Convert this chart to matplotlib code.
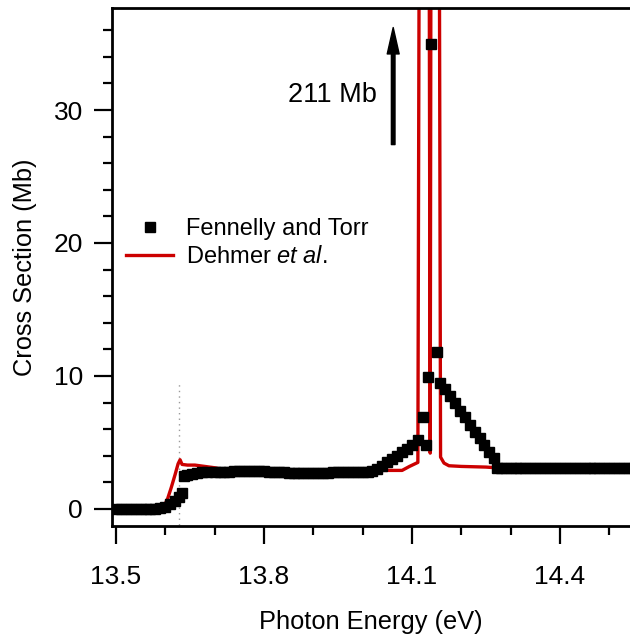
import numpy as np
import matplotlib
matplotlib.use("Agg")
from matplotlib import pyplot as plt
from matplotlib.ticker import MultipleLocator

plt.rcParams['font.family'] = ['Liberation Sans', 'DejaVu Sans']
plt.rcParams['mathtext.fontset'] = 'custom'
plt.rcParams['mathtext.rm'] = 'Liberation Sans'
plt.rcParams['mathtext.it'] = 'Liberation Sans:italic'

# Fennelly and Torr tabulated cross sections (eV, Mb)
ft_energy = [13.50, 13.51, 13.52, 13.53, 13.54, 13.55, 13.56, 13.57, 13.58, 13.59,
             13.60, 13.61, 13.62, 13.628, 13.634, 13.638, 13.645, 13.655, 13.665, 13.675,
             13.685, 13.70, 13.71, 13.72, 13.73, 13.74, 13.75, 13.76, 13.77, 13.78,
             13.79, 13.80, 13.81, 13.82, 13.83, 13.84, 13.85, 13.86, 13.87, 13.88,
             13.89, 13.90, 13.91, 13.92, 13.93, 13.94, 13.95, 13.96, 13.97, 13.98,
             13.99, 14.00, 14.01, 14.02, 14.03, 14.04, 14.05, 14.06, 14.07, 14.08,
             14.09, 14.10, 14.113, 14.123, 14.128, 14.132, 14.139, 14.151, 14.157, 14.167,
             14.177, 14.187, 14.197, 14.207, 14.217, 14.227, 14.237, 14.247, 14.257, 14.267,
             14.273, 14.28, 14.29, 14.30, 14.31, 14.32, 14.33, 14.34, 14.35, 14.36,
             14.37, 14.38, 14.39, 14.40, 14.41, 14.42, 14.43, 14.44, 14.45, 14.46,
             14.47, 14.48, 14.49, 14.50, 14.51, 14.52, 14.53, 14.54, 14.55]
ft_sigma = [0.0, 0.0, 0.0, 0.0, 0.0, 0.0, 0.0, 0.0, 0.0, 0.05,
            0.15, 0.35, 0.6, 0.9, 1.2, 2.5, 2.55, 2.62, 2.7, 2.75,
            2.78, 2.8, 2.8, 2.8, 2.8, 2.82, 2.85, 2.85, 2.85, 2.85,
            2.85, 2.82, 2.8, 2.78, 2.75, 2.75, 2.72, 2.72, 2.72, 2.72,
            2.72, 2.72, 2.72, 2.72, 2.72, 2.75, 2.75, 2.78, 2.78, 2.8,
            2.8, 2.8, 2.8, 2.85, 3.0, 3.25, 3.5, 3.75, 4.0, 4.25,
            4.5, 4.8, 5.2, 6.9, 4.8, 9.9, 35.0, 11.8, 9.5, 9.0,
            8.5, 8.0, 7.4, 6.9, 6.3, 5.8, 5.3, 4.8, 4.3, 3.8,
            3.1, 3.1, 3.1, 3.1, 3.1, 3.1, 3.1, 3.1, 3.1, 3.1,
            3.1, 3.1, 3.1, 3.1, 3.1, 3.1, 3.1, 3.1, 3.1, 3.1,
            3.1, 3.1, 3.1, 3.1, 3.1, 3.1, 3.1, 3.1, 3.1]

# Dehmer et al. high resolution curve (eV, Mb); the two resonances reach 211 Mb
dh_energy = [13.50, 13.58, 13.59, 13.60, 13.605, 13.612, 13.62, 13.626, 13.630, 13.634,
             13.645, 13.66, 13.68, 13.70, 13.72, 13.74, 13.76, 13.78, 13.80, 13.83,
             13.86, 13.88, 13.90, 13.92, 13.95, 13.98, 14.00, 14.02, 14.05, 14.08,
             14.095, 14.112, 14.126, 14.137, 14.145, 14.158, 14.165, 14.175, 14.20, 14.25,
             14.27, 14.28, 14.30, 14.35, 14.40, 14.45, 14.50, 14.55]
dh_sigma = [0.0, 0.0, 0.1, 0.4, 0.8, 1.6, 2.6, 3.4, 3.7, 3.35,
            3.3, 3.3, 3.2, 3.1, 2.95, 2.85, 2.85, 2.85, 2.8, 2.85,
            2.95, 2.9, 2.95, 2.95, 2.95, 2.9, 2.85, 2.9, 2.9, 2.9,
            3.2, 3.5, 211.0, 4.2, 211.0, 3.9, 3.45, 3.25, 3.2, 3.15,
            3.1, 2.9, 2.8, 2.8, 2.8, 2.8, 2.85, 2.85]

threshold = 13.628
peak_label = "211 Mb"

fig = plt.figure(figsize=(6.30, 6.38), dpi=100)
ax = fig.add_axes([112 / 630, 1 - 526 / 638, 1 - 112 / 630, (526 - 8) / 638])

ax.plot(dh_energy, dh_sigma, color='#cc0000', lw=2.4, zorder=2,
        label='Dehmer $\\mathit{et\\ al}$.')
ax.plot(ft_energy, ft_sigma, ls='none', marker='s', ms=6.5, color='black',
        mec='black', zorder=3, label='Fennelly and Torr')

# ionisation threshold marker
ax.plot([threshold, threshold], [-1.2, 9.6], color='#9a9a9a', lw=1.0,
        ls=(0, (1, 3)), zorder=1)

ax.annotate('', xy=(14.062, 36.2), xytext=(14.062, 27.4),
            arrowprops=dict(facecolor='black', edgecolor='black', width=2.6,
                            headwidth=8.6, headlength=19, shrink=0))
ax.text(14.029, 31.1, peak_label, ha='right', va='center', fontsize=19.5)

ax.set_xlim(13.492, 14.542)
ax.set_ylim(-1.28, 37.67)
ax.xaxis.set_major_locator(MultipleLocator(0.3))
ax.xaxis.set_minor_locator(MultipleLocator(0.1))
ax.yaxis.set_major_locator(MultipleLocator(10))
ax.yaxis.set_minor_locator(MultipleLocator(2))
ax.set_xticks([13.5, 13.8, 14.1, 14.4])
ax.set_xticklabels(['13.5', '13.8', '14.1', '14.4'])

for side in ['left', 'bottom', 'top']:
    ax.spines[side].set_linewidth(2.0)
ax.spines['right'].set_visible(False)
ax.tick_params(which='major', direction='out', length=13, width=1.6, labelsize=19)
ax.tick_params(which='minor', direction='out', length=6.5, width=1.6)
ax.tick_params(axis='x', which='major', pad=15)
ax.tick_params(axis='y', which='major', pad=8)
ax.tick_params(top=False, right=False, which='both')

ax.set_xlabel('Photon Energy (eV)', fontsize=18.3, labelpad=15)
ax.set_ylabel('Cross Section (Mb)', fontsize=18.3, labelpad=12)

handles, labels = ax.get_legend_handles_labels()
ax.legend(handles[::-1], labels[::-1], loc='upper left', bbox_to_anchor=(0.027, 0.594),
          frameon=False, fontsize=17, numpoints=1, handlelength=2.0,
          handletextpad=0.55, labelspacing=0.25, borderpad=0, borderaxespad=0)

fig.savefig('out.png', dpi=100)
plt.close(fig)
